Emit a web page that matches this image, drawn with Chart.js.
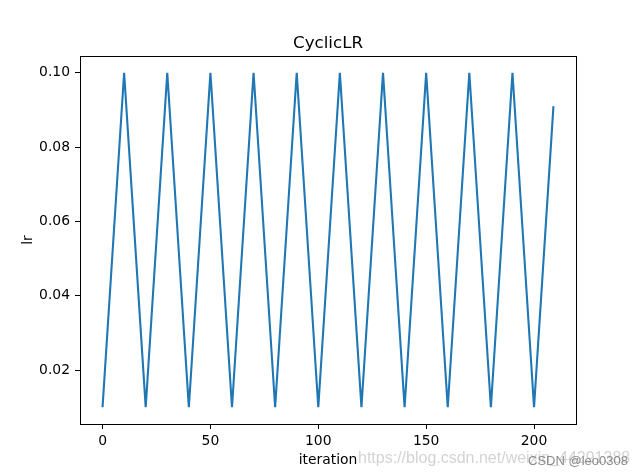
<!DOCTYPE html>
<html>
<head>
<meta charset="utf-8">
<script src="https://cdn.jsdelivr.net/npm/chart.js@4/dist/chart.umd.min.js"></script>
<style>
  html, body { margin: 0; padding: 0; background: #fff; }
  #wrap { width: 640px; height: 476px; }
</style>
</head>
<body>
<div id="wrap"><canvas id="lrChart" width="640" height="476"></canvas></div>
<script>
// turning points of the learning rate curve
const iterations = [0, 10, 20, 30, 40, 50, 60, 70, 80, 90, 100, 110, 120, 130, 140, 150, 160, 170, 180, 190, 200, 209];
const lrValues = [0.01, 0.1, 0.01, 0.1, 0.01, 0.1, 0.01, 0.1, 0.01, 0.1, 0.01, 0.1, 0.01, 0.1, 0.01, 0.1, 0.01, 0.1, 0.01, 0.1, 0.01, 0.091];
const xTicks = [0, 50, 100, 150, 200];
const yTicks = [0.02, 0.04, 0.06, 0.08, 0.10];
const chartTitle = 'CyclicLR';

const FONT = 'DejaVu Sans';

// frame, title centred over the axes, and the watermarks
const boxAndMarks = {
    id: 'boxAndMarks',
    afterDraw(chart) {
        const ctx = chart.ctx;
        const a = chart.chartArea;
        ctx.save();
        ctx.strokeStyle = '#000';
        ctx.lineWidth = 1;
        ctx.strokeRect(Math.round(a.left) + 0.5, Math.round(a.top) + 0.5,
            Math.round(a.right - a.left), Math.round(a.bottom - a.top));

        ctx.fillStyle = '#000';
        ctx.textAlign = 'center';
        ctx.textBaseline = 'middle';
        ctx.font = '16.7px "' + FONT + '"';
        ctx.fillText(chartTitle, (a.left + a.right) / 2, a.top - 12);

        ctx.textAlign = 'left';
        ctx.font = '16px "Liberation Sans"';
        ctx.fillStyle = 'rgba(200,200,200,0.8)';
        ctx.fillText('https://blog.csdn.net/weixin_44291388', 358, 459);
        ctx.font = '13px "Liberation Sans"';
        ctx.fillStyle = '#8a8a8a';
        ctx.fillText('CSDN @leo0308', 528, 461);
        ctx.restore();
    }
};

new Chart(document.getElementById('lrChart').getContext('2d'), {
    type: 'line',
    data: {
        datasets: [{
            label: 'lr',
            data: iterations.map((it, i) => ({ x: it, y: lrValues[i] })),
            borderColor: '#1f77b4',
            borderWidth: 2.1,
            pointRadius: 0,
            tension: 0,
            fill: false
        }]
    },
    options: {
        responsive: false,
        animation: false,
        layout: { padding: { left: 0, right: 64, top: 56, bottom: 0 } },
        scales: {
            x: {
                type: 'linear',
                min: -10.45,
                max: 219.45,
                afterBuildTicks: s => { s.ticks = xTicks.map(v => ({ value: v })); },
                afterFit: s => { s.height = 52; },
                grid: { display: true, drawOnChartArea: false, tickLength: 5, color: '#000' },
                border: { display: true, color: '#000' },
                ticks: { color: '#000', padding: 4, maxRotation: 0, font: { family: FONT, size: 13.9 } },
                title: { display: true, text: 'iteration', color: '#000', padding: { top: 0, bottom: 7 }, font: { family: FONT, size: 13.9 } }
            },
            y: {
                type: 'linear',
                min: 0.0055,
                max: 0.1045,
                afterBuildTicks: s => { s.ticks = yTicks.map(v => ({ value: v })); },
                afterFit: s => { s.width = 80; },
                grid: { display: true, drawOnChartArea: false, tickLength: 5, color: '#000' },
                border: { display: true, color: '#000' },
                ticks: { color: '#000', padding: 5, callback: v => v.toFixed(2), font: { family: FONT, size: 13.9 } },
                title: { display: true, text: 'lr', color: '#000', padding: { top: 20, bottom: 0 }, font: { family: FONT, size: 13.9 } }
            }
        },
        plugins: {
            legend: { display: false },
            tooltip: { enabled: false },
            title: { display: false }
        }
    },
    plugins: [boxAndMarks]
});
</script>
</body>
</html>
